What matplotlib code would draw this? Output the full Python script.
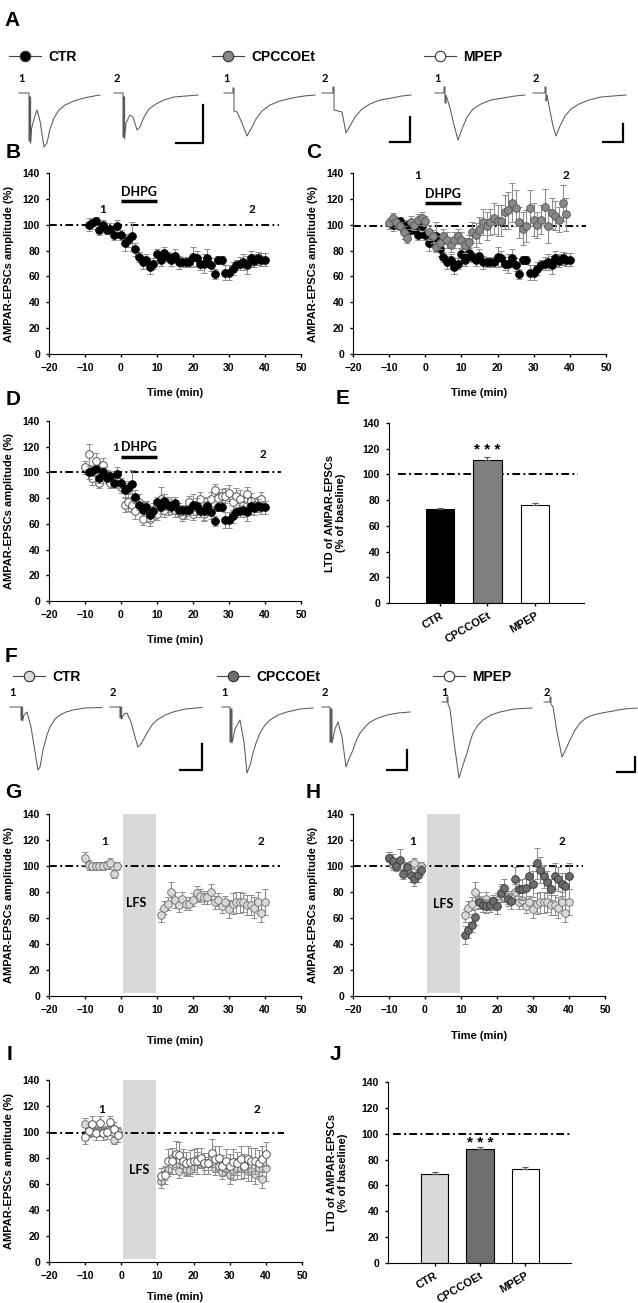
#!/usr/bin/python3

"""mGluR dependent LTD of AMPAR-EPSCs: DHPG and LFS time courses."""

import matplotlib
matplotlib.use('Agg')
import matplotlib.pyplot as plt
from matplotlib.lines import Line2D

plt.rcParams['font.family'] = ['Liberation Sans', 'DejaVu Sans']
plt.rcParams['font.weight'] = 'bold'
plt.rcParams['axes.labelweight'] = 'bold'

W, H = 638, 1303
CALIBRI = ['Lato', 'DejaVu Sans']

GROUPS = ['CTR', 'CPCCOEt', 'MPEP']

# --- DHPG experiments (B, C, D) ---
DHPG_CTR_T = list(range(-9, 41))
DHPG_CTR = [100, 101, 103, 96, 100, 96, 97, 92, 99, 92,
            86, 88, 91, 81, 75, 71, 73, 67, 70, 77,
            73, 78, 75, 73, 76, 71, 71, 71, 71, 75,
            74, 70, 70, 74, 69, 62, 73, 73, 63, 63,
            66, 69, 70, 71, 69, 74, 72, 74, 73, 73]
DHPG_CTR_SEM = [5, 4, 3, 4, 4, 3, 4, 4, 5, 4,
                6, 5, 11, 5, 4, 5, 4, 5, 4, 4,
                5, 5, 4, 5, 5, 5, 4, 4, 4, 8,
                6, 5, 7, 7, 5, 4, 3, 3, 6, 6,
                5, 4, 5, 6, 7, 6, 5, 5, 5, 5]

DHPG_CPC_T = list(range(-10, 40))
DHPG_CPC = [101, 105, 102, 99, 94, 90, 102, 100, 104, 105,
            103, 94, 91, 83, 86, 91, 88, 84, 88, 91,
            88, 84, 87, 94, 92, 96, 102, 99, 102, 105,
            103, 103, 110, 111, 117, 113, 102, 97, 99, 113,
            104, 100, 104, 114, 99, 109, 107, 104, 117, 108]
DHPG_CPC_SEM = [4, 4, 4, 3, 5, 4, 5, 4, 4, 5,
                4, 6, 5, 4, 5, 6, 6, 5, 6, 6,
                6, 6, 5, 8, 9, 10, 10, 11, 10, 12,
                12, 12, 13, 14, 15, 14, 12, 13, 12, 14,
                13, 10, 11, 14, 13, 12, 11, 10, 14, 13]

DHPG_MPEP_T = list(range(-10, 40))
DHPG_MPEP = [104, 114, 96, 109, 92, 106, 97, 92, 94, 94,
             89, 75, 77, 75, 70, 77, 64, 73, 64, 70,
             68, 79, 71, 74, 75, 71, 70, 67, 69, 77,
             68, 73, 79, 68, 75, 79, 86, 80, 82, 82,
             84, 77, 82, 79, 75, 83, 78, 75, 75, 79]
DHPG_MPEP_SEM = [5, 8, 6, 6, 4, 5, 5, 4, 5, 4,
                 5, 6, 7, 6, 6, 6, 5, 5, 6, 6,
                 5, 10, 6, 7, 6, 6, 5, 5, 5, 5,
                 5, 5, 6, 6, 5, 6, 5, 5, 5, 6,
                 6, 7, 6, 7, 6, 6, 6, 5, 6, 6]

# --- LFS experiments (G, H, I) ---
LFS_T = list(range(-10, 0)) + list(range(11, 41))
LFS_CTR = [106, 101, 100, 100, 100, 100, 101, 102, 94, 100,
           62, 68, 71, 80, 74, 70, 75, 71, 71, 74,
           79, 77, 76, 76, 80, 72, 74, 69, 72, 67,
           71, 72, 72, 72, 70, 70, 68, 72, 64, 72]
LFS_CTR_SEM = [5, 4, 3, 3, 3, 3, 3, 4, 3, 3,
               5, 5, 5, 8, 6, 5, 5, 5, 5, 5,
               6, 5, 5, 5, 6, 5, 5, 5, 5, 7,
               8, 8, 8, 7, 8, 8, 8, 8, 7, 10]
LFS_CPC = [106, 104, 100, 105, 94, 99, 93, 90, 93, 97,
           47, 51, 55, 61, 72, 70, 69, 70, 73, 69,
           79, 83, 75, 73, 90, 82, 82, 83, 92, 86,
           102, 97, 92, 88, 82, 92, 90, 86, 85, 92]
LFS_CPC_SEM = [5, 5, 4, 8, 4, 4, 5, 5, 5, 4,
               7, 6, 6, 6, 5, 5, 5, 5, 5, 6,
               7, 7, 6, 6, 9, 7, 8, 8, 9, 10,
               12, 10, 9, 8, 8, 10, 9, 9, 10, 10]
LFS_MPEP = [96, 101, 106, 99, 107, 99, 100, 108, 102, 98,
            66, 67, 78, 78, 83, 82, 78, 76, 77, 78,
            78, 80, 76, 76, 84, 79, 80, 74, 78, 74,
            77, 76, 79, 74, 79, 78, 78, 76, 79, 83]
LFS_MPEP_SEM = [5, 5, 6, 5, 5, 5, 5, 4, 6, 6,
                6, 7, 9, 10, 10, 10, 9, 9, 9, 9,
                10, 8, 8, 8, 11, 10, 9, 8, 9, 9,
                10, 9, 10, 9, 10, 10, 10, 10, 10, 9]

# --- summary bars (E, J) ---
DHPG_LTD = [73, 111, 76.5]
DHPG_LTD_SEM = [0.6, 2.5, 1.2]
LFS_LTD = [69, 88.5, 72.5]
LFS_LTD_SEM = [1.5, 1.2, 2.0]

DHPG_WINDOW = (0, 10)
LFS_WINDOW = (0.5, 9.7)

# --- example traces (time, current), baseline = 0 ---
A_CTR1_T = [0, 10, 10, 10.6, 10.6, 11.6, 11.6, 12.5, 15, 18, 21, 25, 28, 31, 35, 40, 46, 55, 65, 75, 81]
A_CTR1_I = [0, 0, -48, -48, -4, -4, -50, -36, -26, -17, -28, -54, -50, -36, -25, -17, -12, -8, -5, -3, -2]
A_CTR2_T = [0, 9, 9, 9.6, 9.6, 10.6, 10.6, 12, 16, 19, 23, 26, 30, 35, 42, 50, 60, 72, 84]
A_CTR2_I = [0, 0, -44, -44, -4, -4, -46, -30, -22, -24, -37, -34, -24, -16, -11, -7, -4, -3, -2]
A_CPC1_T = [0, 9, 9, 10, 10, 13, 18, 23, 27, 32, 38, 46, 56, 68, 80, 91]
A_CPC1_I = [0, 0, 5, 5, -18, -19, -30, -43, -36, -26, -18, -12, -8, -5, -3, -2]
A_CPC2_T = [0, 11, 11, 12, 12, 20, 24, 28, 33, 40, 48, 58, 70, 80, 89]
A_CPC2_I = [0, 0, 6, 6, -17, -19, -40, -33, -24, -16, -11, -7, -5, -3, -2]
A_MPEP1_T = [0, 9, 9, 10, 10, 11, 11, 15, 19, 23, 27, 32, 38, 46, 56, 68, 80, 90]
A_MPEP1_I = [0, 0, 6, 6, -10, -10, -2, -15, -32, -47, -36, -24, -16, -11, -7, -5, -3, -2]
A_MPEP2_T = [0, 12, 12, 13, 13, 14, 17, 20, 23, 27, 32, 38, 46, 56, 68, 80, 93]
A_MPEP2_I = [0, 0, 6, 6, -8, -2, -18, -33, -43, -33, -23, -16, -11, -7, -4, -3, -2]

F_CTR1_T = [0, 11, 11, 11.8, 11.8, 12.6, 12.6, 14, 17, 21, 25, 28, 30, 33, 37, 40, 45, 50, 56, 63, 75, 92]
F_CTR1_I = [0, 0, -13, -13, 0, 0, -14, -8, -5, -20, -45, -63, -60, -43, -28, -20, -12, -8, -5, -3, -1, -0.5]
F_CTR2_T = [0, 10, 10, 10.8, 10.8, 11.6, 11.6, 14, 17, 21, 25, 28, 31, 37, 42, 47, 55, 63, 75, 92]
F_CTR2_I = [0, 0, -11, -11, 0, 0, -12, -7, -6, -15, -30, -40, -37, -26, -18, -13, -8, -5, -2, -0.5]
F_CPC1_T = [0, 8, 8, 9, 9, 10, 10, 13, 18, 22, 25, 28, 31, 34, 38, 43, 48, 56, 65, 78, 91]
F_CPC1_I = [0, 0, -35, -35, -2, -2, -36, -22, -13, -35, -66, -58, -46, -36, -26, -18, -13, -8, -5, -2, -1]
F_CPC2_T = [0, 8, 8, 9, 9, 10, 10, 13, 16, 20, 24, 27, 31, 34, 38, 43, 48, 56, 65, 76, 88]
F_CPC2_I = [0, 0, -35, -35, -2, -2, -36, -22, -15, -30, -60, -52, -43, -34, -26, -20, -15, -11, -8, -6, -5]
F_MPEP1_T = [0, 5, 5, 6, 6, 8, 12, 17, 21, 25, 28, 31, 36, 41, 49, 58, 72, 90]
F_MPEP1_I = [5, 5, 10, 10, 3, -2, -35, -71, -58, -46, -35, -26, -18, -13, -8, -5, -2, -1]
F_MPEP2_T = [0, 6, 6, 7, 7, 9, 13, 18, 22, 26, 31, 36, 42, 49, 58, 69, 80, 93]
F_MPEP2_I = [5, 5, 10, 10, 3, 0, -25, -50, -42, -33, -23, -16, -11, -8, -6, -4, -2, -1]

# scale bars: (ms, pA)
SCALE_A = [(27, 38), (20, 25), (20, 18)]
SCALE_F = [(22, 26), (20, 20), (18, 15)]

COL_CPC_DHPG = '#8a8a8a'
COL_CTR_LFS = '#d9d9d9'
COL_CPC_LFS = '#6e6e6e'


fig = plt.figure(figsize=(W / 100, H / 100), dpi=100)


def px_axes(x0, y0, x1, y1):
    return fig.add_axes([x0 / W, 1 - y1 / H, (x1 - x0) / W, (y1 - y0) / H])


def letter(x, y, s):
    fig.text(x / W, 1 - y / H, s, ha='center', va='center', fontsize=15, fontweight='bold')


def legend_item(x, y, label, face):
    handle = Line2D([0], [0], color='#444444', lw=0.8, marker='o', ms=7.5,
                    mfc=face, mec='#333333', mew=0.8)
    fig.legend(handles=[handle], labels=[label], loc='center left',
               bbox_to_anchor=(x / W, 1 - y / H), frameon=False,
               prop={'size': 10, 'weight': 'bold'}, handlelength=2.3,
               handletextpad=0.5, borderpad=0, borderaxespad=0)


def trace_row(box, ylim, traces, starts, scales, corners):
    ax = px_axes(*box)
    ax.set_xlim(box[0], box[2])
    ax.set_ylim(*ylim)
    ax.axis('off')
    for k, ((t, i), x0) in enumerate(zip(traces, starts)):
        ax.plot([x0 + v for v in t], i, color='#5a5a5a', lw=0.75)
        ax.text(x0 + 3, 14, '12'[k % 2], fontsize=8, fontweight='bold',
                family=CALIBRI, ha='center', va='center')
    for (sx, sy), (cx, cy) in zip(scales, corners):
        ax.plot([cx - sx, cx, cx], [cy, cy, cy + sy], color='black', lw=1.6,
                solid_joinstyle='miter')


def time_axes(box, xlabel_y=-0.19):
    ax = px_axes(*box)
    ax.set_xlim(-20, 50)
    ax.set_ylim(0, 140)
    ax.set_xticks(range(-20, 51, 10))
    ax.set_yticks(range(0, 141, 20))
    for side in ['top', 'right']:
        ax.spines[side].set_visible(False)
    ax.tick_params(direction='out', length=2.5, width=1, labelsize=7.5, pad=4)
    ax.set_xlabel('Time (min)', fontsize=8)
    ax.xaxis.set_label_coords(0.5, xlabel_y)
    ax.set_ylabel('AMPAR-EPSCs amplitude (%)', fontsize=8)
    ax.yaxis.set_label_coords(-0.14, 0.5)
    ax.patch.set_visible(False)
    return ax


def series(ax, t, v, e, face, edge, z):
    ax.errorbar(t, v, yerr=e, fmt='o', ms=5.5, mfc=face, mec=edge, mew=0.7,
                ecolor='#8c8c8c', elinewidth=0.8, capsize=2, capthick=0.8, zorder=z)


def baseline(ax, level, x1, x0=-20):
    ax.plot([x0, x1], [level, level], color='black', lw=1.4,
            linestyle=(0, (4, 1.7, 1, 1.7)), zorder=1)


def label(ax, x, y, s, size=8.5):
    ax.text(x, y, s, fontsize=size, fontweight='bold', family=CALIBRI,
            ha='center', va='center')


def dhpg(ax, text_y, bar_y):
    label(ax, sum(DHPG_WINDOW) / 2, text_y, 'DHPG', 9)
    ax.plot(DHPG_WINDOW, [bar_y, bar_y], color='black', lw=2.5, solid_capstyle='butt')


def lfs(ax, text_x, text_y):
    ax.axvspan(*LFS_WINDOW, ymin=0.018, ymax=1, color=COL_CTR_LFS, lw=0, zorder=0)
    label(ax, text_x, text_y, 'LFS', 9)


def bar_axes(box, means, sems, colors, star_y, dash_x, xlim):
    ax = px_axes(*box)
    x = range(len(GROUPS))
    ax.bar(x, means, width=0.6, color=colors, edgecolor='black', lw=0.8, zorder=2)
    ax.errorbar(x, means, yerr=[[0] * len(sems), sems], fmt='none', ecolor='#555555',
                elinewidth=0.8, capsize=2.5, capthick=0.8, zorder=3)
    baseline(ax, 100, dash_x[1], dash_x[0])
    ax.text(1, star_y, '* * *', fontsize=11, fontweight='bold', ha='center', va='baseline')
    ax.set_xlim(*xlim)
    ax.set_ylim(0, 140)
    ax.set_yticks(range(0, 141, 20))
    ax.set_xticks(list(x))
    ax.set_xticklabels(GROUPS, rotation=30, ha='right', rotation_mode='anchor', fontsize=8)
    for side in ['top', 'right']:
        ax.spines[side].set_visible(False)
    ax.tick_params(direction='out', length=2.5, width=1, labelsize=7.5, pad=4)
    ax.tick_params(axis='x', labelsize=8, pad=3)
    ax.set_ylabel('LTD of AMPAR-EPSCs\n(% of baseline)', fontsize=8, linespacing=1.1)
    ax.yaxis.set_label_coords(-0.22, 0.5)
    ax.patch.set_visible(False)
    return ax


# ---------- row A: DHPG example traces ----------
letter(12, 21, 'A')
legend_item(9, 57, 'CTR', 'black')
legend_item(212, 57, 'CPCCOEt', COL_CPC_DHPG)
legend_item(424, 57, 'MPEP', 'white')
trace_row((0, 60, 638, 160), (-67, 33),
          [(A_CTR1_T, A_CTR1_I), (A_CTR2_T, A_CTR2_I), (A_CPC1_T, A_CPC1_I),
           (A_CPC2_T, A_CPC2_I), (A_MPEP1_T, A_MPEP1_I), (A_MPEP2_T, A_MPEP2_I)],
          [19, 114, 224, 322, 435, 533], SCALE_A,
          [(203, -50), (410, -49), (623, -49)])

# ---------- B ----------
letter(13, 152, 'B')
ax = time_axes((49, 173, 301, 354))
baseline(ax, 100, 44)
series(ax, DHPG_CTR_T, DHPG_CTR, DHPG_CTR_SEM, 'black', 'black', 3)
dhpg(ax, 125, 118)
label(ax, -5, 112, '1')
label(ax, 36.4, 112, '2')

# ---------- C ----------
letter(314, 152, 'C')
ax = time_axes((353, 173, 606, 354))
baseline(ax, 99, 44.6)
series(ax, DHPG_CTR_T, DHPG_CTR, DHPG_CTR_SEM, 'black', 'black', 3)
series(ax, DHPG_CPC_T, DHPG_CPC, DHPG_CPC_SEM, COL_CPC_DHPG, '#5a5a5a', 4)
dhpg(ax, 123.6, 116.7)
label(ax, -2.2, 137.7, '1')
label(ax, 38.8, 137.7, '2')

# ---------- D ----------
letter(13, 400, 'D')
ax = time_axes((49, 421, 301, 601))
baseline(ax, 100, 44.5)
series(ax, DHPG_MPEP_T, DHPG_MPEP, DHPG_MPEP_SEM, 'white', '#555555', 3)
series(ax, DHPG_CTR_T, DHPG_CTR, DHPG_CTR_SEM, 'black', 'black', 4)
dhpg(ax, 119.6, 111.8)
label(ax, -1.5, 119.6, '1')
label(ax, 39.4, 114, '2')

# ---------- E ----------
letter(343, 398, 'E')
bar_axes((389, 423, 584, 603), DHPG_LTD, DHPG_LTD_SEM,
         ['black', '#7f7f7f', 'white'], 116, (-0.88, 2.9), (-1.07, 3.03))

# ---------- row F: LFS example traces ----------
letter(11, 657, 'F')
legend_item(13, 677, 'CTR', COL_CTR_LFS)
legend_item(217, 677, 'CPCCOEt', COL_CPC_LFS)
legend_item(433, 677, 'MPEP', 'white')
trace_row((0, 685, 638, 800), (-93, 22),
          [(F_CTR1_T, F_CTR1_I), (F_CTR2_T, F_CTR2_I), (F_CPC1_T, F_CPC1_I),
           (F_CPC2_T, F_CPC2_I), (F_MPEP1_T, F_MPEP1_I), (F_MPEP2_T, F_MPEP2_I)],
          [10, 110, 222, 322, 442, 544], SCALE_F,
          [(202, -63), (407, -63), (635, -65)])

# ---------- G ----------
letter(13, 793, 'G')
ax = time_axes((49, 814, 301, 996), xlabel_y=-0.22)
lfs(ax, 4.35, 71.8)
baseline(ax, 100, 44.2)
series(ax, LFS_T, LFS_CTR, LFS_CTR_SEM, COL_CTR_LFS, '#7a7a7a', 3)
label(ax, -4.4, 118.7, '1')
label(ax, 38.9, 118.7, '2')

# ---------- H ----------
letter(313, 793, 'H')
ax = time_axes((353, 814, 605, 996))
lfs(ax, 5, 70.7)
baseline(ax, 100, 43.9)
series(ax, LFS_T, LFS_CTR, LFS_CTR_SEM, COL_CTR_LFS, '#7a7a7a', 3)
series(ax, LFS_T, LFS_CPC, LFS_CPC_SEM, COL_CPC_LFS, '#3c3c3c', 4)
label(ax, -3.5, 118.7, '1')
label(ax, 37.9, 118.7, '2')

# ---------- I ----------
letter(10, 1055, 'I')
ax = time_axes((49, 1080, 302, 1262), xlabel_y=-0.165)
lfs(ax, 5, 70.7)
baseline(ax, 99, 45)
series(ax, LFS_T, LFS_CTR, LFS_CTR_SEM, COL_CTR_LFS, '#7a7a7a', 3)
series(ax, LFS_T, LFS_MPEP, LFS_MPEP_SEM, 'white', '#555555', 4)
label(ax, -5.5, 117.5, '1')
label(ax, 37.4, 117.5, '2')

# ---------- J ----------
letter(335, 1055, 'J')
bar_axes((388, 1082, 571, 1263), LFS_LTD, LFS_LTD_SEM,
         [COL_CTR_LFS, COL_CPC_LFS, 'white'], 90, (-0.92, 2.99), (-1.03, 3.01))

fig.savefig('out.png', dpi=100, facecolor='white')
